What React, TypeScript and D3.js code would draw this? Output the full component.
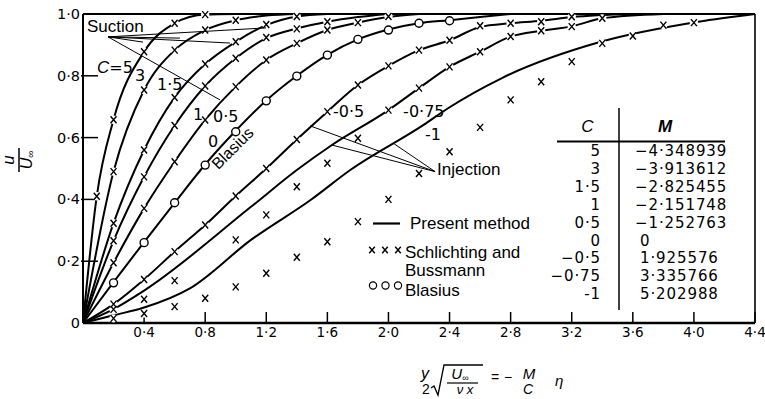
import React from 'react';
import * as d3 from 'd3';

// ---- axis ticks ----
const xTicks = [0.4, 0.8, 1.2, 1.6, 2.0, 2.4, 2.8, 3.2, 3.6, 4.0, 4.4];
const xTickLabels = ['0·4', '0·8', '1·2', '1·6', '2·0', '2·4', '2·8', '3·2', '3·6', '4·0', '4·4'];
const yTicks = [0, 0.2, 0.4, 0.6, 0.8, 1.0];
const yTickLabels = ['0', '0·2', '0·4', '0·6', '0·8', '1·0'];

// ---- present method curves [x, u/U∞] ----
const curveC5 = [[0, 0], [0.09, 0.41], [0.2, 0.658], [0.4, 0.878], [0.6, 0.97], [0.8, 0.998], [1.0, 1]];
const curveC3 = [[0, 0], [0.2, 0.49], [0.4, 0.754], [0.6, 0.883], [0.8, 0.948], [1.0, 0.98], [1.2, 0.995], [1.4, 1]];
const curveC15 = [[0, 0], [0.2, 0.323], [0.4, 0.56], [0.6, 0.73], [0.8, 0.838], [1.0, 0.91], [1.2, 0.964], [1.4, 0.992], [1.6, 1]];
const curveC1 = [[0, 0], [0.2, 0.266], [0.4, 0.473], [0.6, 0.639], [0.8, 0.767], [1.0, 0.857], [1.2, 0.922], [1.4, 0.953], [1.6, 0.975], [1.8, 0.99], [2.0, 1]];
const curveC05 = [[0, 0], [0.2, 0.195], [0.4, 0.371], [0.6, 0.522], [0.8, 0.657], [1.0, 0.765], [1.2, 0.851], [1.4, 0.905], [1.6, 0.948], [1.8, 0.972], [2.0, 0.99], [2.2, 1]];
const curveC0 = [[0, 0], [0.2, 0.132], [0.4, 0.262], [0.6, 0.389], [0.8, 0.513], [1.0, 0.622], [1.2, 0.72], [1.4, 0.8], [1.6, 0.868], [1.8, 0.918], [2.0, 0.95], [2.2, 0.97], [2.4, 0.98], [2.6, 0.99], [2.8, 1]];
const curveCm05 = [[0, 0], [0.2, 0.061], [0.4, 0.141], [0.6, 0.231], [0.8, 0.317], [1.0, 0.411], [1.2, 0.5], [1.4, 0.594], [1.6, 0.684], [1.8, 0.77], [2.0, 0.832], [2.2, 0.883], [2.4, 0.915], [2.6, 0.958], [2.8, 0.97], [3.0, 0.978], [3.2, 0.99], [3.6, 1]];
const curveCm075 = [[0, 0], [0.2, 0.045], [0.4, 0.105], [1.1, 0.376], [1.4, 0.495], [1.63, 0.576], [2.0, 0.689], [2.2, 0.76], [2.4, 0.829], [2.6, 0.878], [2.8, 0.927], [3.0, 0.946], [3.2, 0.96], [3.4, 0.986], [3.8, 1]];
const curveCm1 = [[0, 0], [0.2, 0.025], [0.4, 0.05], [0.7, 0.112], [1.1, 0.269], [1.49, 0.398], [1.75, 0.495], [2.23, 0.641], [2.39, 0.695], [2.74, 0.792], [3.39, 0.91], [4.03, 0.975], [4.4, 1]];
const curves = [curveC5, curveC3, curveC15, curveC1, curveC05, curveC0, curveCm05, curveCm075, curveCm1];

// ---- Schlichting and Bussmann points ----
const ptsC5 = [[0.09, 0.41], [0.2, 0.658], [0.4, 0.878], [0.6, 0.97], [0.8, 0.998]];
const ptsC3 = [[0.2, 0.49], [0.4, 0.754], [0.6, 0.883], [0.8, 0.948], [1.0, 0.98]];
const ptsC15 = [[0.2, 0.323], [0.4, 0.56], [0.6, 0.73], [0.8, 0.838], [1.0, 0.91], [1.2, 0.966], [1.4, 0.992]];
const ptsC1 = [[0.2, 0.266], [0.4, 0.473], [0.6, 0.639], [0.8, 0.767], [1.0, 0.857], [1.2, 0.924], [1.4, 0.952], [1.6, 0.975]];
const ptsC05 = [[0.2, 0.195], [0.4, 0.371], [0.6, 0.522], [0.8, 0.657], [1.0, 0.765], [1.2, 0.851], [1.4, 0.905], [1.6, 0.948], [1.8, 0.972], [2.0, 0.992]];
const ptsCm05 = [[0.2, 0.061], [0.4, 0.141], [0.6, 0.231], [0.8, 0.317], [1.0, 0.411], [1.2, 0.5], [1.4, 0.594], [1.6, 0.684], [1.8, 0.77], [2.0, 0.832], [2.2, 0.883], [2.4, 0.915], [2.6, 0.962], [2.8, 0.97], [3.0, 0.975], [3.2, 0.991]];
const ptsCm075 = [[0.2, 0.044], [0.4, 0.077], [0.6, 0.137], [1.0, 0.269], [1.2, 0.35], [1.4, 0.441], [1.6, 0.517], [1.8, 0.598], [2.0, 0.689], [2.2, 0.76], [2.4, 0.829], [2.6, 0.878], [2.8, 0.927], [3.0, 0.946], [3.2, 0.959], [3.4, 0.986]];
const ptsCm1 = [[0.2, 0.015], [0.4, 0.031], [0.6, 0.053], [0.8, 0.08], [1.0, 0.117], [1.2, 0.161], [1.4, 0.213], [1.6, 0.263], [1.8, 0.328], [2.0, 0.4], [2.2, 0.484], [2.4, 0.554], [2.6, 0.633], [2.8, 0.722], [3.0, 0.781], [3.2, 0.846], [3.4, 0.905], [3.6, 0.929], [3.8, 0.964], [4.0, 0.972]];
const crossPoints = [ptsC5, ptsC3, ptsC15, ptsC1, ptsC05, ptsCm05, ptsCm075, ptsCm1];

// ---- Blasius points ----
const blasiusPts = [[0.2, 0.13], [0.4, 0.26], [0.6, 0.389], [0.8, 0.511], [1.0, 0.619], [1.2, 0.719], [1.4, 0.799], [1.6, 0.867], [1.8, 0.918], [2.0, 0.948], [2.2, 0.97], [2.4, 0.978]];

// ---- curve labels [x, u, text] ----
const curveLabels = [
  [0.026, 0.943, 'Suction'],
  [0.34, 0.782, '3'],
  [0.485, 0.754, '1·5'],
  [0.72, 0.657, '1'],
  [0.851, 0.652, '0·5'],
  [0.819, 0.57, '0'],
  [1.637, 0.667, '-0·5'],
  [2.096, 0.667, '-0·75'],
  [2.24, 0.592, '-1'],
  [2.318, 0.479, 'Injection'],
];
const c5Label = [0.092, 0.809];
const blasiusLabel = [1.005, 0.553];

// ---- leader lines ----
const suctionVertex = [0.164, 0.926];
const suctionTargets = [[0.393, 0.909], [0.635, 0.922], [0.963, 0.906], [1.198, 0.955], [0.897, 0.722]];
const injectionVertex = [2.305, 0.49];
const injectionTargets = [[1.487, 0.638], [1.629, 0.576], [2.031, 0.582]];

// ---- table ----
const tableC = ['5', '3', '1·5', '1', '0·5', '0', '−0·5', '−0·75', '-1'];
const tableM = ['−4·348939', '−3·913612', '−2·825455', '−2·151748', '−1·252763', '0', '1·925576', '3·335766', '5·202988'];

const SANS = 'Liberation Sans, Arial, sans-serif';
const NUM = 'DejaVu Sans, sans-serif';

export default function App() {
  const x = d3.scaleLinear().domain([0, 4.4]).range([83, 755]);
  const y = d3.scaleLinear().domain([0, 1]).range([323, 14]);
  const line = d3.line<number[]>().x(d => x(d[0])).y(d => y(d[1])).curve(d3.curveMonotoneX);

  const cross = (cx: number, cy: number, s = 3) =>
    `M${cx - s},${cy - s - 0.5}L${cx + s},${cy + s + 0.5}M${cx + s},${cy - s - 0.5}L${cx - s},${cy + s + 0.5}`;

  const allCross = crossPoints.flat();

  return (
    <svg width={765} height={399} style={{ position: 'absolute', left: 0, top: 0, background: '#fff' }} fontFamily={SANS}>
      <rect x={0} y={0} width={765} height={399} fill="#fff" />
      {/* curves */}
      <g fill="none" stroke="#000" strokeWidth={2}>
        {curves.map((c, i) => <path key={i} d={line(c as any) || ''} />)}
      </g>
      {/* frame */}
      <g stroke="#000" fill="none">
        <line x1={x(0)} x2={x(0)} y1={y(1)} y2={y(0)} strokeWidth={2} />
        <line x1={x(0)} x2={x(4.4)} y1={y(0)} y2={y(0)} strokeWidth={2.4} />
        <line x1={x(0)} x2={x(4.4)} y1={y(1)} y2={y(1)} strokeWidth={2.2} />
        <line x1={x(4.4)} x2={x(4.4)} y1={y(1)} y2={y(0)} strokeWidth={1.6} />
      </g>
      {/* ticks */}
      <g stroke="#000" strokeWidth={1.5}>
        {xTicks.map(t => <line key={t} x1={x(t)} x2={x(t)} y1={y(0)} y2={y(0) - 11} />)}
        {yTicks.filter(t => t > 0 && t < 1).map(t => <line key={t} x1={x(0) - 2} x2={x(0) + 15} y1={y(t)} y2={y(t)} />)}
      </g>
      <g fontFamily={NUM} fontSize={13.5} textAnchor="middle" fill="#000">
        {xTicks.map((t, i) => <text key={t} x={x(t)} y={y(0) + 14}>{xTickLabels[i]}</text>)}
      </g>
      <g fontFamily={NUM} fontSize={14.5} textAnchor="end" fill="#000">
        {yTicks.map((t, i) => <text key={t} x={x(0) - 3} y={y(t) + 5}>{yTickLabels[i]}</text>)}
      </g>
      {/* cross markers with white gap */}
      <g fill="#fff">
        {allCross.map((p, i) => <circle key={i} cx={x(p[0])} cy={y(p[1])} r={4.2} />)}
      </g>
      <g stroke="#000" strokeWidth={1.4} fill="none">
        {allCross.map((p, i) => <path key={i} d={cross(x(p[0]), y(p[1]))} />)}
      </g>
      {/* Blasius circles */}
      <g fill="#fff" stroke="#000" strokeWidth={1.4}>
        {blasiusPts.map((p, i) => <circle key={i} cx={x(p[0])} cy={y(p[1])} r={4} />)}
      </g>
      {/* leader lines */}
      <g stroke="#000" strokeWidth={1}>
        {suctionTargets.map((t, i) => <line key={i} x1={x(suctionVertex[0])} y1={y(suctionVertex[1])} x2={x(t[0])} y2={y(t[1])} />)}
        {injectionTargets.map((t, i) => <line key={'i' + i} x1={x(injectionVertex[0])} y1={y(injectionVertex[1])} x2={x(t[0])} y2={y(t[1])} />)}
      </g>
      {/* curve labels */}
      <g fill="#000">
        {curveLabels.map((l, i) => {
          const txt = l[2] as string;
          const isWord = /[a-z]/i.test(txt);
          return (
            <text key={i} x={x(l[0] as number)} y={y(l[1] as number)}
              fontFamily={isWord ? SANS : NUM} fontSize={isWord ? 17 : 16}>{txt}</text>
          );
        })}
        <text x={x(c5Label[0])} y={y(c5Label[1])} fontSize={17}>
          <tspan fontStyle="italic">C</tspan><tspan fontFamily={NUM} fontSize={16}>=5</tspan>
        </text>
        <text x={x(blasiusLabel[0])} y={y(blasiusLabel[1])} fontSize={16} textAnchor="middle"
          transform={`rotate(-45 ${x(blasiusLabel[0])} ${y(blasiusLabel[1])})`}>Blasius</text>
      </g>
      {/* legend */}
      <g fill="#000" fontSize={17}>
        <line x1={373} x2={400} y1={223.5} y2={223.5} stroke="#000" strokeWidth={2.2} />
        <text x={410} y={229}>Present method</text>
        {[372, 385, 398].map(cx => <path key={cx} d={cross(cx, 250, 2.8)} stroke="#000" strokeWidth={1.4} fill="none" />)}
        <text x={405} y={257.5}>Schlichting and</text>
        <text x={405} y={276}>Bussmann</text>
        {[373, 385.5, 398].map(cx => <circle key={cx} cx={cx} cy={285.5} r={3.6} fill="#fff" stroke="#000" strokeWidth={1.2} />)}
        <text x={405} y={296}>Blasius</text>
      </g>
      {/* table */}
      <g fill="#000">
        <line x1={619} x2={619} y1={108} y2={310} stroke="#000" strokeWidth={1.5} />
        <line x1={557} x2={725} y1={141.5} y2={141.5} stroke="#000" strokeWidth={2} />
        <text x={587.5} y={131.5} fontSize={17} fontStyle="italic" textAnchor="middle">C</text>
        <text x={665} y={131.5} fontSize={17} fontStyle="italic" fontWeight="bold" textAnchor="middle">M</text>
        <g fontFamily={NUM} fontSize={15} letterSpacing={0.9}>
          {tableC.map((c, i) => <text key={i} x={601} y={156 + i * 17.9} textAnchor="end">{c}</text>)}
          {tableM.map((m, i) => <text key={i} x={m.startsWith('−') ? 635 : 640} y={156 + i * 17.9}>{m}</text>)}
        </g>
      </g>
      {/* y-axis title */}
      <g transform="translate(19,160) rotate(-90)" fill="#000" textAnchor="middle">
        <text x={0} y={-5} fontSize={17} fontStyle="italic">u</text>
        <line x1={-12} x2={12} y1={0} y2={0} stroke="#000" strokeWidth={1.5} />
        <text x={0} y={13} fontSize={16} fontStyle="italic">U<tspan fontSize={10} fontStyle="normal" dy={2}>∞</tspan></text>
      </g>
      {/* x-axis title */}
      <g fill="#000" fontStyle="italic" transform="translate(0,-3)">
        <text x={425} y={382} fontSize={16} textAnchor="middle">y</text>
        <text x={426} y={397} fontSize={14} fontStyle="normal" textAnchor="middle">2</text>
        <path d="M431,391 L434,389 L438,398 L444,368 L483,368" fill="none" stroke="#000" strokeWidth={1.3} />
        <text x={460} y={382} fontSize={15} textAnchor="middle">U<tspan fontSize={9} fontStyle="normal" dy={2}>∞</tspan></text>
        <line x1={447} x2={478} y1={386} y2={386} stroke="#000" strokeWidth={1.2} />
        <text x={465} y={397} fontSize={13} textAnchor="middle">ν x</text>
        <text x={491} y={385} fontSize={14} fontStyle="normal">=</text>
        <text x={504} y={385} fontSize={14} fontStyle="normal">−</text>
        <text x={529} y={382} fontSize={15} textAnchor="middle">M</text>
        <text x={528} y={397} fontSize={14} textAnchor="middle">C</text>
        <text x={555} y={389} fontSize={15}>η</text>
      </g>
    </svg>
  );
}
